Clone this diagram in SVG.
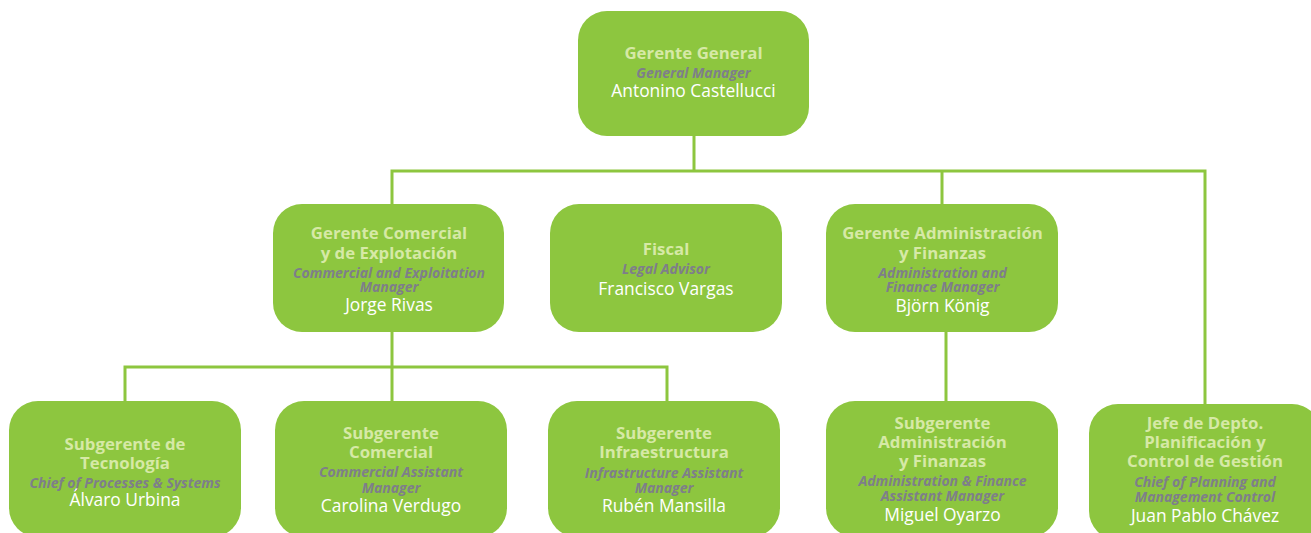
<svg xmlns="http://www.w3.org/2000/svg" width="1311" height="533" viewBox="0 0 1311 533">
<style>
.box{fill:#8DC63F}
.ln{stroke:#8DC63F;stroke-width:3;fill:none}
text{text-anchor:middle;font-family:"Open Sans","Noto Sans","Liberation Sans",sans-serif}
.t{fill:#D6E9A6;font-weight:bold;font-size:16.8px}
.e{fill:#7E7E8A;font-weight:bold;font-style:italic;font-size:14px}
.n{fill:#FFFFFF;font-size:17.4px}
</style>
<rect width="1311" height="533" fill="#FFFFFF"/>
<g id="connectors">
<path class="ln" d="M694 136V171M392 204V171H1205V405M942 171V204"/>
<path class="ln" d="M946 332V401M392 332V367M125 401V367H667V401M392 367V401"/>
</g>
<g id="gerente-general">
<rect class="box" x="578" y="11" width="231" height="125" rx="29"/>
<text class="t" x="693.5" y="59">Gerente General</text>
<text class="e" x="693.5" y="78">General Manager</text>
<text class="n" x="693.5" y="97">Antonino Castellucci</text>
</g>
<g id="gerente-comercial">
<rect class="box" x="273" y="204" width="231" height="128" rx="29"/>
<text class="t" x="389" y="239">Gerente Comercial</text>
<text class="t" x="389" y="258.5">y de Explotación</text>
<text class="e" x="389" y="277.5">Commercial and Exploitation</text>
<text class="e" x="389" y="292">Manager</text>
<text class="n" x="389" y="311">Jorge Rivas</text>
</g>
<g id="fiscal">
<rect class="box" x="550" y="204" width="232" height="128" rx="29"/>
<text class="t" x="666" y="255">Fiscal</text>
<text class="e" x="666" y="274">Legal Advisor</text>
<text class="n" x="666" y="295">Francisco Vargas</text>
</g>
<g id="gerente-administracion">
<rect class="box" x="826" y="204" width="232" height="128" rx="29"/>
<text class="t" x="942.5" y="239">Gerente Administración</text>
<text class="t" x="942.5" y="258.5">y Finanzas</text>
<text class="e" x="942.5" y="277.5">Administration and</text>
<text class="e" x="942.5" y="292">Finance Manager</text>
<text class="n" x="942.5" y="311.5">Björn König</text>
</g>
<g id="subgerente-tecnologia">
<rect class="box" x="9" y="401" width="232" height="136" rx="29"/>
<text class="t" x="125" y="450">Subgerente de</text>
<text class="t" x="125" y="468.5">Tecnología</text>
<text class="e" x="125" y="487.5">Chief of Processes &amp; Systems</text>
<text class="n" x="125" y="506">Álvaro Urbina</text>
</g>
<g id="subgerente-comercial">
<rect class="box" x="275" y="401" width="232" height="136" rx="29"/>
<text class="t" x="391" y="439">Subgerente</text>
<text class="t" x="391" y="458">Comercial</text>
<text class="e" x="391" y="477">Commercial Assistant</text>
<text class="e" x="391" y="493">Manager</text>
<text class="n" x="391" y="512">Carolina Verdugo</text>
</g>
<g id="subgerente-infraestructura">
<rect class="box" x="548" y="401" width="232" height="136" rx="29"/>
<text class="t" x="664" y="439">Subgerente</text>
<text class="t" x="664" y="458">Infraestructura</text>
<text class="e" x="664" y="477.5">Infrastructure Assistant</text>
<text class="e" x="664" y="492.5">Manager</text>
<text class="n" x="664" y="512">Rubén Mansilla</text>
</g>
<g id="subgerente-administracion">
<rect class="box" x="826" y="401" width="232" height="136" rx="29"/>
<text class="t" x="942.5" y="428.5">Subgerente</text>
<text class="t" x="942.5" y="447.5">Administración</text>
<text class="t" x="942.5" y="466.5">y Finanzas</text>
<text class="e" x="942.5" y="485.5">Administration &amp; Finance</text>
<text class="e" x="942.5" y="501">Assistant Manager</text>
<text class="n" x="942.5" y="521">Miguel Oyarzo</text>
</g>
<g id="jefe-planificacion">
<rect class="box" x="1089" y="404" width="232" height="136" rx="29"/>
<text class="t" x="1205" y="429">Jefe de Depto.</text>
<text class="t" x="1205" y="448">Planificación y</text>
<text class="t" x="1205" y="467">Control de Gestión</text>
<text class="e" x="1205" y="486.5">Chief of Planning and</text>
<text class="e" x="1205" y="501.5">Management Control</text>
<text class="n" x="1205" y="522">Juan Pablo Chávez</text>
</g>
</svg>
